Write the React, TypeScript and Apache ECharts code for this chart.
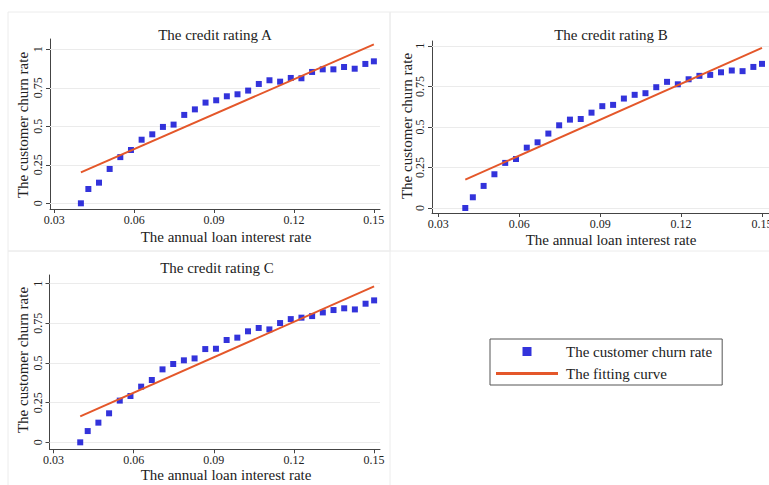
import React, { useEffect, useRef } from "react";
import * as echarts from "echarts";

const FONT = "'Liberation Serif', 'Times New Roman', serif";

// annual loan interest rate (x)
const rates = [
  0.04, 0.0428, 0.0468, 0.0508, 0.0548, 0.0588, 0.0628, 0.0668, 0.0708, 0.0748,
  0.0788, 0.0828, 0.0868, 0.0908, 0.0948, 0.0988, 0.1028, 0.1068, 0.1108, 0.1148,
  0.1188, 0.1228, 0.1268, 0.1308, 0.1348, 0.1388, 0.1428, 0.1468, 0.15,
];

// customer churn rate for each credit rating
const churnA = [
  0, 0.093, 0.134, 0.223, 0.3, 0.346, 0.413, 0.448, 0.496, 0.511,
  0.574, 0.61, 0.654, 0.669, 0.695, 0.708, 0.732, 0.775, 0.799, 0.79,
  0.814, 0.812, 0.853, 0.87, 0.87, 0.885, 0.874, 0.905, 0.922,
];
const churnB = [
  0, 0.066, 0.136, 0.208, 0.278, 0.302, 0.372, 0.405, 0.459, 0.51,
  0.545, 0.549, 0.588, 0.628, 0.636, 0.675, 0.698, 0.708, 0.745, 0.778,
  0.763, 0.794, 0.815, 0.821, 0.837, 0.848, 0.844, 0.87, 0.889,
];
const churnC = [
  0, 0.071, 0.124, 0.183, 0.263, 0.292, 0.351, 0.393, 0.46, 0.494,
  0.517, 0.529, 0.588, 0.59, 0.645, 0.66, 0.7, 0.721, 0.712, 0.752,
  0.777, 0.786, 0.796, 0.819, 0.834, 0.845, 0.838, 0.874, 0.895,
];

// fitted line end points [x, y]
const fitA = [[0.04, 0.201], [0.15, 1.032]];
const fitB = [[0.04, 0.175], [0.15, 0.988]];
const fitC = [[0.04, 0.164], [0.15, 0.983]];

const xTicks = [0.03, 0.06, 0.09, 0.12, 0.15];
const yTicks = [0, 0.25, 0.5, 0.75, 1];

const titles = ["The credit rating A", "The credit rating B", "The credit rating C"];
const xName = "The annual loan interest rate";
const yName = "The customer churn rate";
const scatterName = "The customer churn rate";
const lineName = "The fitting curve";

const BLUE = "#0000d2";
const ORANGE = "#e4572a";
const AXIS = "#444";
const TEXT = "#222";

export default function App() {
  const ref = useRef<HTMLDivElement>(null);

  useEffect(() => {
    if (!ref.current) return;
    const chart = echarts.init(ref.current, undefined, { renderer: "svg" });

    const panels = [
      { grid: { left: 50, top: 39, width: 330, height: 170 }, xMin: 0.0284, xMax: 0.1523, yMin: -0.037, yMax: 1.067, churn: churnA, fit: fitA },
      { grid: { left: 432, top: 41, width: 337, height: 172 }, xMin: 0.02766, xMax: 0.1526, yMin: -0.031, yMax: 1.03, churn: churnB, fit: fitB },
      { grid: { left: 49.5, top: 275, width: 330.5, height: 174.3 }, xMin: 0.0285, xMax: 0.1522, yMin: -0.044, yMax: 1.055, churn: churnC, fit: fitC },
    ];

    const grids = panels.map((p) => ({ ...p.grid, containLabel: false, outerBoundsMode: "none" }));
    const xAxes = panels.map((p, i) => ({
      type: "value",
      gridIndex: i,
      min: p.xMin,
      max: p.xMax,
      axisLine: { onZero: false, lineStyle: { color: AXIS, width: 1 } },
      axisTick: { customValues: xTicks, length: 4, lineStyle: { color: AXIS } },
      axisLabel: {
        customValues: xTicks,
        margin: 5,
        fontSize: 12,
        fontFamily: FONT,
        color: TEXT,
        formatter: (v: number) => v.toFixed(2),
      },
      splitLine: { show: false },
    }));
    const yAxes = panels.map((p, i) => ({
      type: "value",
      gridIndex: i,
      min: p.yMin,
      max: p.yMax,
      axisLine: { onZero: false, lineStyle: { color: AXIS, width: 1 } },
      axisTick: { customValues: yTicks, length: 4, lineStyle: { color: AXIS } },
      axisLabel: {
        customValues: yTicks,
        rotate: 90,
        margin: 6,
        fontSize: 12,
        fontFamily: FONT,
        color: TEXT,
        formatter: (v: number) => String(v),
      },
      splitLine: { show: false },
    }));

    const series: any[] = [];
    panels.forEach((p, i) => {
      series.push({
        type: "scatter",
        name: scatterName,
        xAxisIndex: i,
        yAxisIndex: i,
        symbol: "rect",
        symbolSize: 6,
        itemStyle: { color: BLUE },
        data: rates.map((x, k) => [x, p.churn[k]]),
        z: 3,
        emphasis: { disabled: true },
        markLine: {
          silent: true,
          symbol: ["none", "none"],
          label: { show: false },
          lineStyle: { color: "#ebebeb", width: 1, type: "solid" },
          emphasis: { disabled: true },
          data: yTicks.map((v) => ({ yAxis: v })),
          z: 1,
        },
      });
      series.push({
        type: "line",
        name: lineName,
        xAxisIndex: i,
        yAxisIndex: i,
        symbol: "none",
        showSymbol: false,
        lineStyle: { color: ORANGE, width: 2 },
        itemStyle: { color: ORANGE },
        data: p.fit,
        z: 4,
        emphasis: { disabled: true },
      });
    });

    const textStyle = (x: number, y: number, text: string, rotation = 0, size = 15) => ({
      type: "text",
      x,
      y,
      rotation,
      silent: true,
      style: {
        text,
        fill: TEXT,
        font: `${size}px ${FONT}`,
        textAlign: "center",
        textVerticalAlign: "middle",
      },
    });

    const border = "#ececec";
    const graphic = [
      { type: "rect", shape: { x: 8, y: 12, width: 382, height: 239 }, style: { fill: "none", stroke: border, lineWidth: 1 }, silent: true },
      { type: "rect", shape: { x: 390, y: 12, width: 390, height: 239 }, style: { fill: "none", stroke: border, lineWidth: 1 }, silent: true },
      { type: "rect", shape: { x: 8, y: 251, width: 382, height: 240 }, style: { fill: "none", stroke: border, lineWidth: 1 }, silent: true },
      textStyle(215, 35, titles[0]),
      textStyle(611, 35, titles[1]),
      textStyle(217, 268, titles[2]),
      textStyle(226, 237, xName),
      textStyle(611, 240, xName),
      textStyle(226, 475, xName),
      textStyle(22.7, 125, yName, Math.PI / 2),
      textStyle(406.7, 126, yName, Math.PI / 2),
      textStyle(22.7, 360, yName, Math.PI / 2),
    ];

    chart.setOption({
      animation: false,
      backgroundColor: "#fff",
      grid: grids,
      xAxis: xAxes,
      yAxis: yAxes,
      series,
      graphic,
      legend: {
        orient: "vertical",
        left: 490,
        top: 339,
        selectedMode: false,
        itemWidth: 62,
        itemHeight: 9,
        itemGap: 7,
        symbolKeepAspect: true,
        padding: [5, 10, 4, 6],
        borderColor: "#555",
        borderWidth: 1,
        backgroundColor: "#fff",
        textStyle: { fontFamily: FONT, fontSize: 15, color: TEXT, padding: [0, 0, 0, 3] },
        data: [
          { name: scatterName, icon: "path://M0,0L10,0L10,10L0,10Z", itemStyle: { color: BLUE } },
          { name: lineName, icon: "path://M0,0L62,0L62,3L0,3Z", itemStyle: { color: ORANGE } },
        ],
      },
    });

    return () => chart.dispose();
  }, []);

  return <div ref={ref} style={{ width: 769, height: 485, position: "absolute", left: 0, top: 0 }} />;
}
